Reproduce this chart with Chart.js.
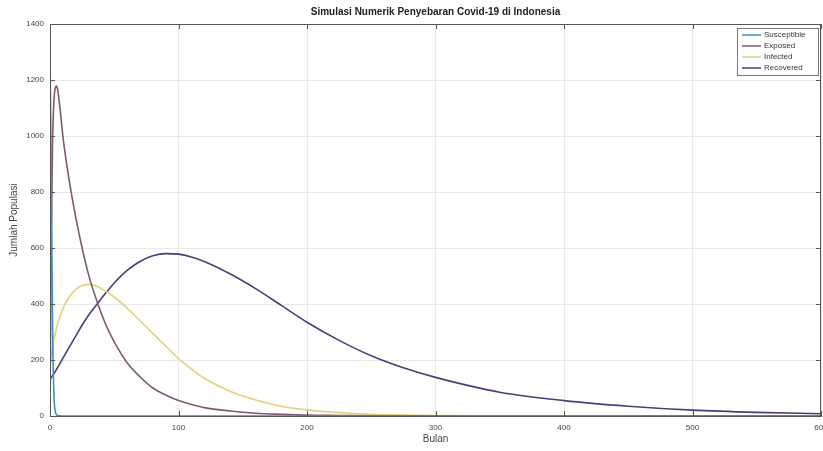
<!DOCTYPE html>
<html>
<head>
<meta charset="utf-8">
<script src="https://cdn.jsdelivr.net/npm/chart.js@4"></script>
<style>
  html, body { margin: 0; padding: 0; background: #fff; }
  #wrap { width: 823px; height: 451px; }
</style>
</head>
<body>
<div id="wrap"><canvas id="myChart" width="823" height="451"></canvas></div>
<script>
// hari / bulan (sumbu x)
const days = [0,1,2,3,4,5,6,7,8,10,12,15,20,25,30,35,40,45,50,60,70,80,90,100,110,120,140,160,180,200,225,250,275,300,350,400,450,500,550,600];

const susceptible = [1300,850,320,80,20,5,2,1,0.5,0.2,0,0,0,0,0,0,0,0,0,0,0,0,0,0,0,0,0,0,0,0,0,0,0,0,0,0,0,0,0,0];
const exposed = [0,650,980,1120,1170,1178,1165,1130,1090,1000,930,840,710,600,505,430,365,310,265,190,140,100,75,55,41,30,18,10,6,3,2,1,0.5,0.3,0,0,0,0,0,0];
const infected = [180,215,245,270,292,312,330,345,358,382,402,425,452,466,470,466,455,441,425,385,340,295,250,205,168,135,88,57,35,22,12,6,3.5,2,0.8,0.3,0,0,0,0];
const recovered = [130,137,144,151,158,166,174,182,190,206,222,246,285,325,360,390,420,448,475,520,552,572,580,578,568,552,508,455,395,335,270,215,172,138,85,55,35,21,13,8];

const seriesNames = ['Susceptible', 'Exposed', 'Infected', 'Recovered'];
const xTicks = [0, 100, 200, 300, 400, 500, 600];
const yTicks = [0, 200, 400, 600, 800, 1000, 1200, 1400];

const colors = ['#3d8fc9', '#7b5b6e', '#e6cf7a', '#4c3c7a'];

function toPoints(vals) {
    return days.map((d, i) => ({ x: d, y: vals[i] }));
}

const allSeries = [susceptible, exposed, infected, recovered];
const fontFam = '"Liberation Sans", Arial, sans-serif';

// kotak plot + tick kecil + legenda di dalam area grafik
const boxPlugin = {
    id: 'boxPlugin',
    afterDraw(chart) {
        const ctx = chart.ctx;
        const a = chart.chartArea;
        const sx = chart.scales.x, sy = chart.scales.y;
        ctx.save();
        ctx.strokeStyle = '#555';
        ctx.lineWidth = 1;
        ctx.strokeRect(a.left + 0.5, a.top + 0.5, a.right - a.left - 1, a.bottom - a.top);

        // tick ke dalam
        ctx.beginPath();
        xTicks.forEach(v => {
            const px = Math.round(sx.getPixelForValue(v)) + 0.5;
            ctx.moveTo(px, a.bottom); ctx.lineTo(px, a.bottom - 5);
            ctx.moveTo(px, a.top); ctx.lineTo(px, a.top + 5);
        });
        yTicks.forEach(v => {
            const py = Math.round(sy.getPixelForValue(v)) + 0.5;
            ctx.moveTo(a.left, py); ctx.lineTo(a.left + 5, py);
            ctx.moveTo(a.right, py); ctx.lineTo(a.right - 5, py);
        });
        ctx.stroke();

        // legend
        const w = 81, h = 47;
        const lx = a.right - w - 3, ly = a.top + 4;
        ctx.fillStyle = '#fff';
        ctx.fillRect(lx, ly, w, h);
        ctx.strokeStyle = '#777';
        ctx.strokeRect(lx + 0.5, ly + 0.5, w, h);
        ctx.font = '8px ' + fontFam;
        ctx.textBaseline = 'middle';
        chart.data.datasets.forEach((ds, i) => {
            const yy = ly + 7 + i * 11;
            ctx.strokeStyle = ds.borderColor;
            ctx.lineWidth = 1.5;
            ctx.beginPath();
            ctx.moveTo(lx + 5, yy);
            ctx.lineTo(lx + 24, yy);
            ctx.stroke();
            ctx.fillStyle = '#333';
            ctx.fillText(ds.label, lx + 27, yy);
        });
        ctx.restore();
    }
};

const ctx = document.getElementById('myChart').getContext('2d');
const myChart = new Chart(ctx, {
    type: 'line',
    data: {
        datasets: seriesNames.map((name, i) => ({
            label: name,
            data: toPoints(allSeries[i]),
            borderColor: colors[i],
            backgroundColor: colors[i],
            borderWidth: 1.6,
            pointRadius: 0,
            cubicInterpolationMode: 'monotone',
            fill: false
        }))
    },
    options: {
        responsive: false,
        animation: false,
        layout: { autoPadding: false, padding: { left: 0, right: 2, top: 0, bottom: 0 } },
        plugins: {
            legend: { display: false },
            tooltip: { enabled: false },
            title: {
                display: true,
                fullSize: false,
                text: 'Simulasi Numerik Penyebaran Covid-19 di Indonesia',
                color: '#222',
                font: { family: fontFam, size: 10, weight: 'bold' },
                padding: { top: 6, bottom: 6 }
            }
        },
        scales: {
            x: {
                type: 'linear',
                min: 0,
                max: 600,
                afterBuildTicks: s => { s.ticks = xTicks.map(v => ({ value: v })); },
                afterFit: s => { s.height = 35; s.paddingLeft = 0; s.paddingRight = 0; },
                grid: { color: '#e8e8e8', drawTicks: false },
                border: { color: '#555' },
                ticks: {
                    color: '#444',
                    padding: 7,
                    maxRotation: 0,
                    callback: v => String(v),
                    font: { family: fontFam, size: 8 }
                },
                title: {
                    display: true,
                    text: 'Bulan',
                    color: '#444',
                    padding: { top: 0, bottom: 6 },
                    font: { family: fontFam, size: 10 }
                }
            },
            y: {
                min: 0,
                max: 1400,
                afterBuildTicks: s => { s.ticks = yTicks.map(v => ({ value: v })); },
                afterFit: s => { s.width = 50; s.paddingTop = 0; s.paddingBottom = 0; },
                grid: { color: '#e8e8e8', drawTicks: false },
                border: { color: '#555' },
                ticks: {
                    color: '#444',
                    padding: 6,
                    callback: v => String(v),
                    font: { family: fontFam, size: 8 }
                },
                title: {
                    display: true,
                    text: 'Jumlah Populasi',
                    color: '#444',
                    padding: { top: 8, bottom: 0 },
                    font: { family: fontFam, size: 10 }
                }
            }
        }
    },
    plugins: [boxPlugin]
});
</script>
</body>
</html>
